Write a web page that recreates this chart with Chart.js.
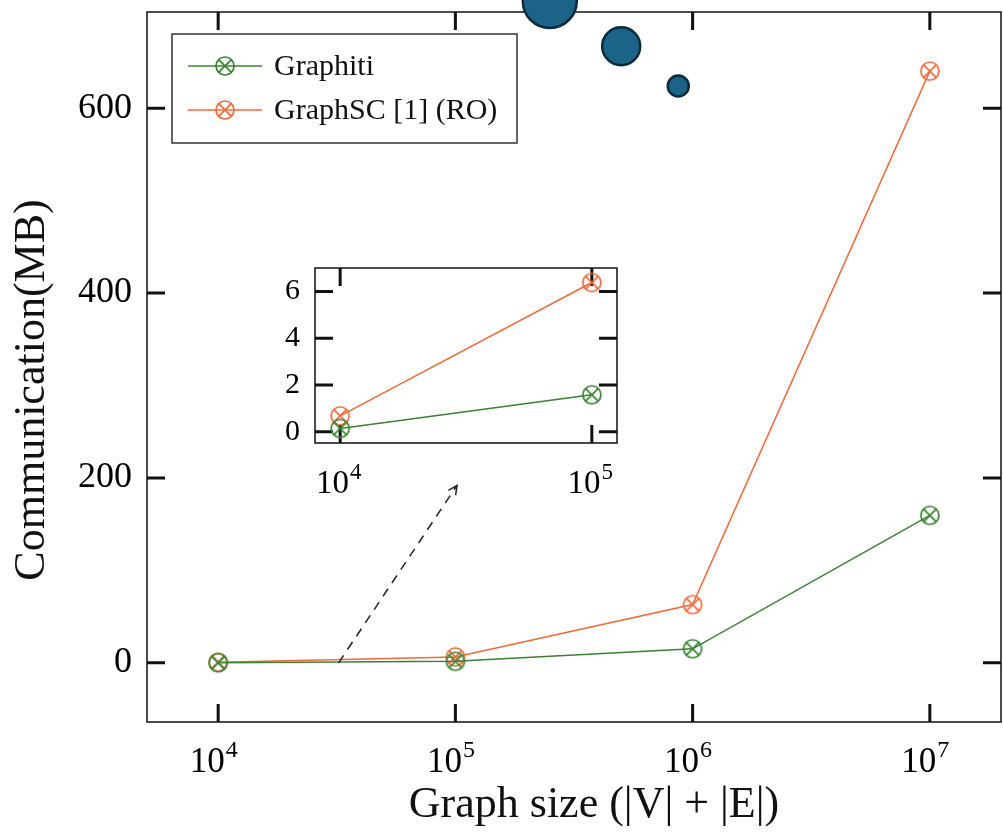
<!DOCTYPE html>
<html>
<head>
<meta charset="utf-8">
<script src="https://cdn.jsdelivr.net/npm/chart.js@4.4.1/dist/chart.umd.min.js"></script>
<style>
  html, body { margin: 0; padding: 0; background: #fff; }
  #wrap { position: relative; width: 1003px; height: 835px; }
  #main { position: absolute; left: 0; top: 0; }
  #inset { position: absolute; left: 265px; top: 258px; }
</style>
</head>
<body>
<div id="wrap">
  <canvas id="main" width="1003" height="835"></canvas>
  <canvas id="inset" width="365" height="245"></canvas>
</div>
<script>
// Graph sizes (|V| + |E|) and communication cost in MB
const graphSizes = [1e4, 1e5, 1e6, 1e7];
const graphitiMB = [0.14, 1.58, 15.2, 159.5];
const graphscMB  = [0.68, 6.38, 63, 640];

// Extra bubble markers near the top of the plot
const bubbleX = [250000, 500000, 870000];
const bubbleY = [716, 667, 624];
const bubbleR = [27, 19, 10.5];

// Tick values
const xTicksMain  = [1e4, 1e5, 1e6, 1e7];
const yTicksMain  = [0, 200, 400, 600];
const xTicksInset = [1e4, 1e5];
const yTicksInset = [0, 2, 4, 6];

// Axis titles
const xTitle = 'Graph size (|V| + |E|)';
const yTitle = 'Communication(MB)';

// Zoom arrow (data coordinates of the main axes)
const arrowFrom = [32200, 0];
const arrowTo   = [101600, 192];

const GREEN = '#3a8232';
const ORANGE = '#ef6a3b';
const FONT = '"Liberation Serif", "Times New Roman", serif';

function makeMarker(color) {
  const c = document.createElement('canvas');
  c.width = 24; c.height = 24;
  const g = c.getContext('2d');
  g.strokeStyle = color; g.lineWidth = 1.7;
  g.beginPath(); g.arc(12, 12, 9, 0, Math.PI * 2); g.stroke();
  const d = 9 * Math.SQRT1_2;
  g.beginPath();
  g.moveTo(12 - d, 12 - d); g.lineTo(12 + d, 12 + d);
  g.moveTo(12 + d, 12 - d); g.lineTo(12 - d, 12 + d);
  g.stroke();
  return c;
}
const greenMarker = makeMarker(GREEN);
const orangeMarker = makeMarker(ORANGE);

function pts(xs, ys) { return xs.map((x, i) => ({ x, y: ys[i] })); }

function seriesDatasets(n) {
  return [
    { label: 'Graphiti', data: pts(graphSizes.slice(0, n), graphitiMB.slice(0, n)),
      borderColor: GREEN, borderWidth: 1.5, pointStyle: greenMarker, marker: greenMarker },
    { label: 'GraphSC [1] (RO)', data: pts(graphSizes.slice(0, n), graphscMB.slice(0, n)),
      borderColor: ORANGE, borderWidth: 1.5, pointStyle: orangeMarker, marker: orangeMarker }
  ];
}

// Frame with inward ticks on all four sides plus tick labels
function framePlugin(opts) {
  return {
    id: 'frame',
    beforeDatasetsDraw(chart) {
      const { ctx, chartArea: { left, right, top, bottom }, scales: { x, y } } = chart;
      ctx.save();
      ctx.strokeStyle = '#111';
      ctx.lineWidth = 1.5;
      ctx.strokeRect(left, top, right - left, bottom - top);
      ctx.lineWidth = 3;
      const L = opts.tickLen;
      ctx.beginPath();
      x.ticks.forEach(t => {
        const px = x.getPixelForValue(t.value);
        ctx.moveTo(px, bottom); ctx.lineTo(px, bottom - L);
        ctx.moveTo(px, top); ctx.lineTo(px, top + L);
      });
      y.ticks.forEach(t => {
        const py = y.getPixelForValue(t.value);
        ctx.moveTo(left, py); ctx.lineTo(left + L, py);
        ctx.moveTo(right, py); ctx.lineTo(right - L, py);
      });
      ctx.stroke();

      // y tick labels
      ctx.fillStyle = '#000';
      ctx.font = opts.yFont + 'px ' + FONT;
      ctx.textAlign = 'right';
      ctx.textBaseline = 'middle';
      y.ticks.forEach(t => {
        ctx.fillText(String(t.value), left - opts.yPad, y.getPixelForValue(t.value));
      });

      // x tick labels as powers of ten
      ctx.textAlign = 'left';
      ctx.textBaseline = 'alphabetic';
      x.ticks.forEach(t => {
        const px = x.getPixelForValue(t.value);
        const exp = String(Math.round(Math.log10(t.value)));
        ctx.font = opts.xFont + 'px ' + FONT;
        const wb = ctx.measureText('10').width;
        ctx.font = opts.expFont + 'px ' + FONT;
        const we = ctx.measureText(exp).width;
        const x0 = px - (wb + we) / 2 - opts.xShift;
        const yb = bottom + opts.xBase;
        ctx.font = opts.xFont + 'px ' + FONT;
        ctx.fillText('10', x0, yb);
        ctx.font = opts.expFont + 'px ' + FONT;
        ctx.fillText(exp, x0 + wb + 1, yb - opts.xFont * 0.42);
      });

      // axis titles
      if (opts.titles) {
        ctx.font = opts.titles.size + 'px ' + FONT;
        ctx.fillStyle = '#111';
        ctx.textAlign = 'center';
        ctx.textBaseline = 'alphabetic';
        ctx.fillText(opts.titles.x, opts.titles.xPos[0], opts.titles.xPos[1]);
        ctx.save();
        ctx.translate(opts.titles.yPos[0], opts.titles.yPos[1]);
        ctx.rotate(-Math.PI / 2);
        ctx.textBaseline = 'middle';
        ctx.fillText(opts.titles.y, 0, 0);
        ctx.restore();
      }
      ctx.restore();
    }
  };
}

const legendPlugin = {
  id: 'boxLegend',
  afterDraw(chart) {
    const { ctx } = chart;
    const items = chart.data.datasets.filter(d => d.marker);
    const bx = 172, by = 34, bw = 345, bh = 109;
    ctx.save();
    ctx.fillStyle = '#fff';
    ctx.fillRect(bx, by, bw, bh);
    ctx.strokeStyle = '#333';
    ctx.lineWidth = 1.5;
    ctx.strokeRect(bx, by, bw, bh);
    ctx.font = '30px ' + FONT;
    ctx.textBaseline = 'middle';
    ctx.fillStyle = '#111';
    items.forEach((d, i) => {
      const cy = by + 32 + i * 44;
      ctx.strokeStyle = d.borderColor;
      ctx.lineWidth = 1.5;
      ctx.beginPath(); ctx.moveTo(188, cy); ctx.lineTo(262, cy); ctx.stroke();
      ctx.drawImage(d.marker, 225 - 12, cy - 12);
      ctx.fillText(d.label, 274, cy + 1);
    });
    ctx.restore();
  }
};

const arrowPlugin = {
  id: 'zoomArrow',
  afterDatasetsDraw(chart) {
    const { ctx, scales: { x, y } } = chart;
    const x1 = x.getPixelForValue(arrowFrom[0]), y1 = y.getPixelForValue(arrowFrom[1]);
    const x2 = x.getPixelForValue(arrowTo[0]), y2 = y.getPixelForValue(arrowTo[1]);
    ctx.save();
    ctx.strokeStyle = '#222';
    ctx.lineWidth = 1.5;
    ctx.setLineDash([9, 7]);
    ctx.beginPath(); ctx.moveTo(x1, y1); ctx.lineTo(x2, y2); ctx.stroke();
    ctx.setLineDash([]);
    const ang = Math.atan2(y2 - y1, x2 - x1);
    const h = 10, spread = 0.45;
    ctx.beginPath();
    ctx.moveTo(x2 - h * Math.cos(ang - spread), y2 - h * Math.sin(ang - spread));
    ctx.lineTo(x2, y2);
    ctx.lineTo(x2 - h * Math.cos(ang + spread), y2 - h * Math.sin(ang + spread));
    ctx.stroke();
    ctx.restore();
  }
};

function setTicks(values) {
  return scale => { scale.ticks = values.map(v => ({ value: v })); };
}

const mainDatasets = seriesDatasets(4);
mainDatasets.push({
  type: 'bubble',
  label: '',
  data: bubbleX.map((x, i) => ({ x, y: bubbleY[i], r: bubbleR[i] })),
  backgroundColor: '#1c6487',
  borderColor: '#0b2b3d',
  borderWidth: 2.5,
  clip: false
});

new Chart(document.getElementById('main'), {
  type: 'line',
  data: { datasets: mainDatasets },
  options: {
    responsive: false,
    devicePixelRatio: 1,
    animation: false,
    events: [],
    layout: { autoPadding: false, padding: { left: 0, top: 12, right: 2, bottom: 0 } },
    plugins: { legend: { display: false }, tooltip: { enabled: false } },
    scales: {
      x: {
        type: 'logarithmic',
        min: Math.pow(10, 3.7), max: Math.pow(10, 7.3),
        afterBuildTicks: setTicks(xTicksMain),
        afterFit: s => { s.height = 113; },
        grid: { display: false },
        border: { display: false },
        ticks: { display: false }
      },
      y: {
        type: 'linear',
        min: -64, max: 704,
        afterBuildTicks: setTicks(yTicksMain),
        afterFit: s => { s.width = 147; },
        grid: { display: false },
        border: { display: false },
        ticks: { display: false }
      }
    }
  },
  plugins: [framePlugin({
              tickLen: 18, yFont: 36, yPad: 15, xFont: 35, expFont: 24, xBase: 50, xShift: 5,
              titles: { x: xTitle, y: yTitle, size: 44, xPos: [594, 817], yPos: [32, 390] }
            }),
            arrowPlugin, legendPlugin]
});

new Chart(document.getElementById('inset'), {
  type: 'line',
  data: { datasets: seriesDatasets(2) },
  options: {
    responsive: false,
    devicePixelRatio: 1,
    animation: false,
    events: [],
    layout: { autoPadding: false, padding: { left: 0, top: 10, right: 13, bottom: 0 } },
    plugins: { legend: { display: false }, tooltip: { enabled: false } },
    scales: {
      x: {
        type: 'logarithmic',
        min: Math.pow(10, 3.9), max: Math.pow(10, 5.1),
        afterBuildTicks: setTicks(xTicksInset),
        afterFit: s => { s.height = 60; },
        grid: { display: false },
        border: { display: false },
        ticks: { display: false }
      },
      y: {
        type: 'linear',
        min: -0.48, max: 7.0,
        afterBuildTicks: setTicks(yTicksInset),
        afterFit: s => { s.width = 50; },
        grid: { display: false },
        border: { display: false },
        ticks: { display: false }
      }
    }
  },
  plugins: [framePlugin({ tickLen: 18, yFont: 30, yPad: 15, xFont: 33, expFont: 23, xBase: 50, xShift: 2 })]
});
</script>
</body>
</html>
